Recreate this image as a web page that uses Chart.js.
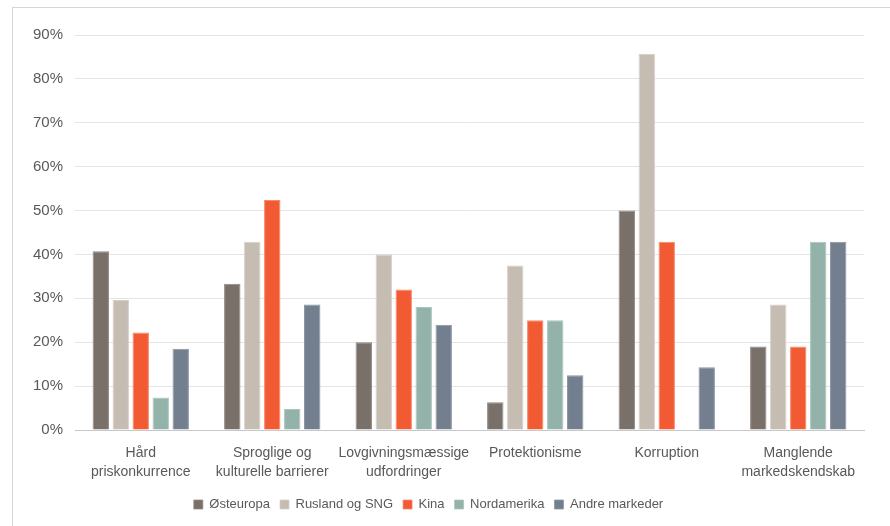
<!DOCTYPE html>
<html lang="da">
<head>
  <meta charset="UTF-8" />
  <title>Barrierer på markeder</title>
  <script src="https://cdn.jsdelivr.net/npm/chart.js"></script>
  <style>
    html, body {
      margin: 0;
      padding: 0;
      background: #ffffff;
      overflow: hidden;
    }
    /* thin frame that runs off the right and bottom edge */
    .frame {
      position: absolute;
      left: 12px;
      top: 7px;
      width: 900px;
      height: 540px;
      border-left: 1px solid #d6d6d6;
      border-top: 1px solid #d6d6d6;
      pointer-events: none;
    }
    .chart-container {
      position: absolute;
      left: 0;
      top: 0;
      width: 890px;
      height: 526px;
    }
  </style>
</head>
<body>
  <div class="chart-container">
    <canvas id="barrierChart"></canvas>
  </div>
  <div class="frame"></div>

  <script>
    // Categories (x axis), two lines each
    const categories = [
      ["Hård", "priskonkurrence"],
      ["Sproglige og", "kulturelle barrierer"],
      ["Lovgivningsmæssige", "udfordringer"],
      ["Protektionisme"],
      ["Korruption"],
      ["Manglende", "markedskendskab"]
    ];

    // Series values in percent
    const osteuropa     = [40.7, 33.3, 20.0, 6.3, 50.0, 19.0];
    const ruslandSng    = [29.6, 42.9, 40.0, 37.5, 85.7, 28.6];
    const kina          = [22.2, 52.4, 32.0, 25.0, 42.9, 19.0];
    const nordamerika   = [7.4, 4.8, 28.0, 25.0, 0, 42.9];
    const andreMarkeder = [18.5, 28.6, 24.0, 12.5, 14.3, 42.9];

    const seriesNames = ["Østeuropa", "Rusland og SNG", "Kina", "Nordamerika", "Andre markeder"];
    const seriesColors = ["#797069", "#c5bcb2", "#f15a33", "#93b3aa", "#737f8f"];
    const seriesEdges = ["#8f8780", "#d6cfc7", "#f7886b", "#aac5bd", "#8995a3"];

    // Y axis ticks
    const yMax = 90;
    const yStep = 10;

    const seriesData = [osteuropa, ruslandSng, kina, nordamerika, andreMarkeder];

    const datasets = seriesNames.map((name, i) => ({
      label: name,
      data: seriesData[i],
      backgroundColor: seriesColors[i],
      borderColor: seriesEdges[i],
      borderWidth: { top: 1, left: 1, right: 1, bottom: 0 },
      barPercentage: 0.82,
      categoryPercentage: 0.76
    }));

    const textColor = '#595959';
    const fontFamily = '"Liberation Sans", Arial, sans-serif';

    // legend in the original sits a bit left of the plot centre
    const legendShift = {
      id: 'legendShift',
      afterLayout(chart) {
        if (chart.legend) {
          chart.legend.left -= 11;
          chart.legend.right -= 11;
        }
      }
    };

    const ctx = document.getElementById('barrierChart').getContext('2d');
    const barrierChart = new Chart(ctx, {
      type: 'bar',
      data: {
        labels: categories,
        datasets: datasets
      },
      plugins: [legendShift],
      options: {
        responsive: true,
        maintainAspectRatio: false,
        animation: false,
        layout: {
          padding: { left: 15, right: 26, top: 35, bottom: 5 }
        },
        scales: {
          x: {
            grid: { display: false, drawTicks: false },
            border: { display: true, color: '#c8c8c8', width: 1 },
            ticks: {
              color: textColor,
              font: { family: fontFamily, size: 14, lineHeight: 1.36 },
              padding: 14,
              maxRotation: 0,
              autoSkip: false
            },
            afterFit: (scale) => { scale.height = 58; }
          },
          y: {
            min: 0,
            max: yMax,
            border: { display: false },
            grid: {
              drawTicks: false,
              color: (c) => (c.tick && c.tick.value === 0 ? '#c8c8c8' : '#e4e4e4'),
              lineWidth: 1
            },
            ticks: {
              stepSize: yStep,
              color: textColor,
              font: { family: fontFamily, size: 15 },
              padding: 12,
              callback: (v) => v + '%'
            },
            afterFit: (scale) => { scale.width = 60; }
          }
        },
        plugins: {
          legend: {
            position: 'bottom',
            labels: {
              color: textColor,
              font: { family: fontFamily, size: 13 },
              boxWidth: 9,
              boxHeight: 9,
              padding: 10
            }
          },
          tooltip: { enabled: false }
        }
      }
    });
  </script>
</body>
</html>
